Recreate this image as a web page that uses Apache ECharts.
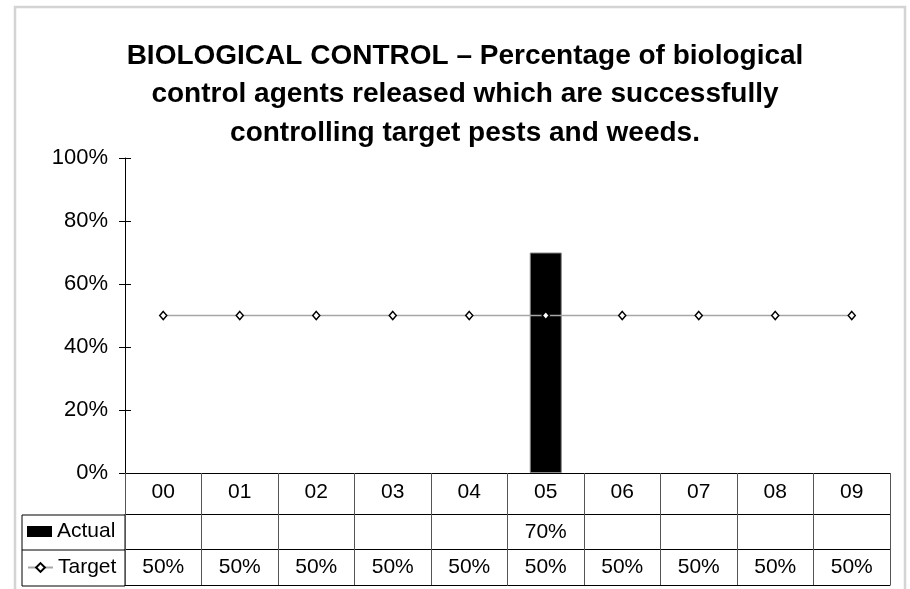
<html>
<head>
    <meta charset="utf-8">
    <title>Biological control</title>
    <script src="https://cdn.jsdelivr.net/npm/echarts@6/dist/echarts.min.js"></script>
    <style>
        body { margin: 0; background: #fff; }
        #main { width: 910px; height: 589px; }
    </style>
</head>
<body>
<div id="main"></div>
<script type="text/javascript">
    // data
    var years = ['00', '01', '02', '03', '04', '05', '06', '07', '08', '09'];
    var actual = [null, null, null, null, null, 70, null, null, null, null];
    var target = [50, 50, 50, 50, 50, 50, 50, 50, 50, 50];
    var yTicks = [0, 20, 40, 60, 80, 100];

    var font = "'Liberation Sans', Arial, sans-serif";
    var myChart = echarts.init(document.getElementById('main'));

    function pct(arr) {
        return function (value, index) {
            return arr[index] == null ? '' : arr[index] + '%';
        };
    }

    // extra category axes below the plot make up the data table rows
    function tableRow(offset, labels) {
        return {
            type: 'category',
            data: years,
            position: 'bottom',
            offset: offset,
            axisLine: { show: true, onZero: false, lineStyle: { color: '#000', width: 1 } },
            axisTick: { show: false },
            axisLabel: labels ? {
                show: true, interval: 0, margin: 8,
                formatter: labels, color: '#000', fontSize: 21, fontFamily: font
            } : { show: false }
        };
    }

    myChart.setOption({
        animation: false,
        title: {
            text: 'BIOLOGICAL CONTROL \u2013 Percentage of biological\ncontrol agents released which are successfully\ncontrolling target pests and weeds.',
            left: 460,
            top: 32,
            textAlign: 'center',
            textStyle: { fontSize: 28, fontWeight: 'bold', fontFamily: font, color: '#000', lineHeight: 38.5 }
        },
        legend: [
            { data: [{ name: 'Actual', icon: 'rect', itemStyle: { borderWidth: 0 } }], left: 27, top: 521, padding: 0,
              itemWidth: 25, itemHeight: 11, textStyle: { fontSize: 21, fontFamily: font, color: '#000' } },
            { data: ['Target'], left: 27, top: 557, padding: 0, itemWidth: 25, itemHeight: 11,
              textStyle: { fontSize: 21, fontFamily: font, color: '#000' } }
        ],
        graphic: [
            { type: 'rect', shape: { x: 15, y: 7, width: 890, height: 600 },
              style: { fill: 'none', stroke: '#d4d4d4', lineWidth: 2.5 }, silent: true },
            { type: 'rect', shape: { x: 22, y: 515, width: 103, height: 71 },
              style: { fill: 'none', stroke: '#000', lineWidth: 1 }, silent: true },
            { type: 'line', shape: { x1: 22, y1: 550, x2: 125, y2: 550 },
              style: { stroke: '#000', lineWidth: 1 }, silent: true }
        ],
        grid: { left: 125, right: 20, top: 158, bottom: 116, containLabel: false },
        xAxis: [
            {
                type: 'category',
                data: years,
                position: 'bottom',
                boundaryGap: true,
                axisLine: { show: true, onZero: false, lineStyle: { color: '#000', width: 1 } },
                axisTick: { show: true, interval: 0, length: 112, lineStyle: { color: '#555' } },
                axisLabel: { interval: 0, margin: 9, color: '#000', fontSize: 21, fontFamily: font }
            },
            tableRow(41, pct(actual)),
            tableRow(76, pct(target)),
            tableRow(112, null)
        ],
        yAxis: [
            {
                type: 'value', min: yTicks[0], max: yTicks[yTicks.length - 1], interval: 20,
                axisLine: { show: true, lineStyle: { color: '#000' } },
                axisTick: { show: true, length: 6, lineStyle: { color: '#000' } },
                splitLine: { show: false },
                axisLabel: { formatter: '{value}%', margin: 17, color: '#000', fontSize: 22, fontFamily: font }
            },
            {
                type: 'value', min: yTicks[0], max: yTicks[yTicks.length - 1], interval: 20,
                position: 'left',
                axisLine: { show: false },
                axisTick: { show: true, inside: true, length: 6, lineStyle: { color: '#000' } },
                splitLine: { show: false },
                axisLabel: { show: false }
            }
        ],
        series: [
            {
                name: 'Actual',
                type: 'bar',
                data: actual,
                barWidth: 32,
                itemStyle: { color: '#000', borderColor: '#888', borderWidth: 1 }
            },
            {
                name: 'Target',
                type: 'line',
                data: target,
                symbol: 'diamond',
                symbolSize: [7, 8],
                showAllSymbol: true,
                lineStyle: { color: '#a6a6a6', width: 1.5 },
                itemStyle: { color: '#fff', borderColor: '#000', borderWidth: 1.5 }
            }
        ]
    });
</script>
</body>
</html>
